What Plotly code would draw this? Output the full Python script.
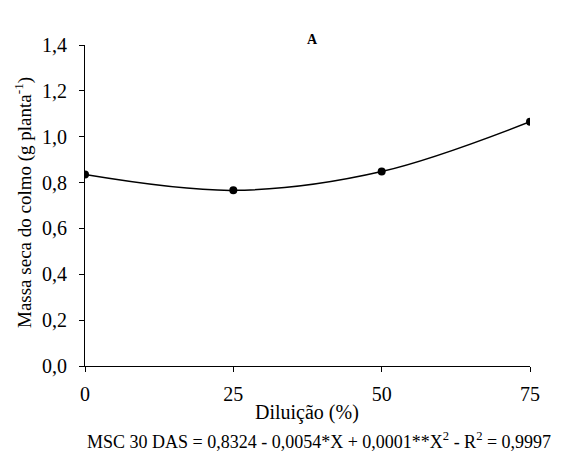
import plotly.graph_objects as go

dilution = [0, 25, 50, 75]
msc = [0.835, 0.766, 0.848, 1.065]
x_ticks = [0, 25, 50, 75]
y_ticks = [0.0, 0.2, 0.4, 0.6, 0.8, 1.0, 1.2, 1.4]

FONT = "Liberation Serif"
L, R, T, B = 85, 530, 45, 366  # plot area in pixels


def px_x(p):
    return (p - L) / (R - L)


def px_y(p):
    return (B - p) / (B - T)


fig = go.Figure()
fig.add_trace(go.Scatter(
    x=dilution, y=msc, mode="lines",
    line=dict(color="black", width=1.5, shape="spline", smoothing=1.0),
    showlegend=False, hoverinfo="skip"))
fig.add_trace(go.Scatter(
    x=dilution, y=msc, mode="markers",
    marker=dict(color="black", size=8),
    showlegend=False))

fig.update_layout(
    width=566, height=454,
    margin=dict(l=L, r=566 - R, t=T, b=454 - B),
    paper_bgcolor="white", plot_bgcolor="white",
    separators=", ",
    font=dict(family=FONT, size=20, color="black"),
    xaxis=dict(range=[0, 75], tickvals=x_ticks, showgrid=False, zeroline=False,
               showline=True, linecolor="black", linewidth=1,
               ticks="outside", ticklen=5, tickcolor="black",
               ticklabelstandoff=5,
               tickfont=dict(family=FONT, size=20)),
    yaxis=dict(range=[0, 1.4], tickvals=y_ticks, tickformat=".1f",
               showgrid=False, zeroline=False,
               showline=True, linecolor="black", linewidth=1,
               ticks="outside", ticklen=5, tickcolor="black",
               ticklabelstandoff=8,
               tickfont=dict(family=FONT, size=20)),
    annotations=[
        dict(text="<b>A</b>", x=px_x(312), y=px_y(39), xref="paper", yref="paper",
             showarrow=False, font=dict(family=FONT, size=14), xanchor="center", yanchor="middle"),
        dict(text="Diluição (%)", x=px_x(307), y=px_y(413), xref="paper", yref="paper",
             showarrow=False, font=dict(family=FONT, size=20), xanchor="center", yanchor="middle"),
        dict(text="Massa seca do colmo (g planta<sup>-1</sup>)", x=px_x(23), y=px_y(203),
             xref="paper", yref="paper", textangle=-90,
             showarrow=False, font=dict(family=FONT, size=19), xanchor="center", yanchor="middle"),
        dict(text="MSC 30 DAS = 0,8324 - 0,0054*X + 0,0001**X<sup>2</sup> - R<sup>2</sup> = 0,9997",
             x=px_x(319), y=px_y(440), xref="paper", yref="paper",
             xanchor="center", yanchor="middle",
             showarrow=False, font=dict(family=FONT, size=18)),
    ],
)
fig.write_html("out.html")
